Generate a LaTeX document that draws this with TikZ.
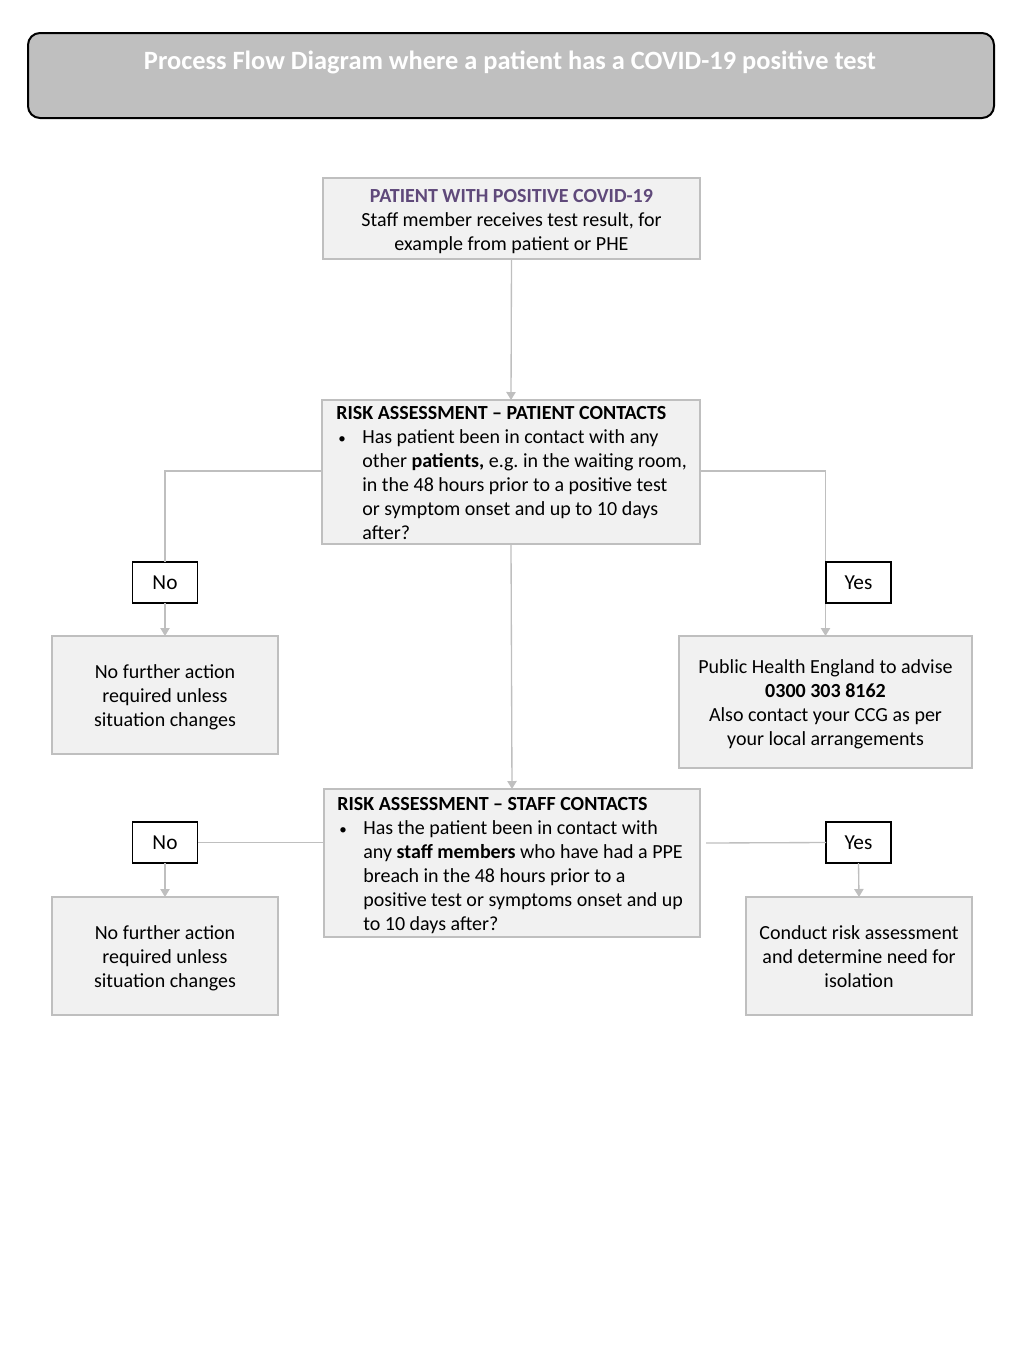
\documentclass[tikz,border=0pt]{standalone}
\usepackage{fontspec}
\setmainfont{Carlito}
\usetikzlibrary{arrows.meta}
\frenchspacing
\definecolor{boxfill}{RGB}{241,241,241}
\definecolor{boxline}{RGB}{191,191,191}
\definecolor{titlefill}{RGB}{191,191,191}
\definecolor{headpurple}{RGB}{95,73,122}
\newcommand{\dropbox}[1]{\raisebox{-2.25pt}[\height][\depth]{#1}}
\newcommand{\ctext}[1]{\dropbox{\begin{tabular}{@{}c@{}}#1\end{tabular}}}
\newcommand{\btext}[2]{\dropbox{\makebox[#1][l]{\begin{tabular}{@{}l@{}l@{}}#2\end{tabular}}}}
\newcommand{\bul}{\makebox[19.5pt][l]{\hspace{1.5pt}\raisebox{0.6pt}{\scalebox{0.75}{\textbullet}}}}
\tikzset{
  stepbox/.style={draw=boxline, fill=boxfill, line width=1.1pt, inner sep=0pt, outer sep=0pt, font=\fontsize{15}{18}\selectfont},
  answer/.style={draw=black, fill=white, line width=0.8pt, inner sep=0pt, outer sep=0pt, minimum width=48.75pt, minimum height=30.75pt, font=\fontsize{16}{18}\selectfont},
  conn/.style={draw=boxline, line width=1pt},
  arr/.style={conn, -{Triangle[width=7pt,length=6pt]}}
}
\begin{document}
\begin{tikzpicture}[x=0.75pt,y=-0.75pt]
\useasboundingbox (0,0) rectangle (1024,1365);
% title
\node[draw=black, fill=titlefill, line width=1.5pt, rounded corners=9pt, minimum width=724.5pt, minimum height=63.75pt, inner sep=0pt] (titlebox) at (511,75.5) {};
\node[text=white, font=\fontsize{19.8}{22}\selectfont\bfseries, inner sep=0pt] (title) at (510,62) {Process Flow Diagram where a patient has a COVID-19 positive test};
% box 1
\node[stepbox, minimum width=282.75pt, minimum height=60.75pt] (b1) at (511.5,218.5)
  {\ctext{{\bfseries\color{headpurple}PATIENT WITH POSITIVE COVID-19}\\Staff member receives test result, for\\example from patient or PHE}};
% box 2
\node[stepbox, minimum width=283.5pt, minimum height=108pt] (b2) at (511,472)
  {\btext{262pt}{\multicolumn{2}{@{}l@{}}{\textbf{RISK ASSESSMENT – PATIENT CONTACTS}}\\
   \bul & Has patient been in contact with any\\
   & other \textbf{patients,} e.g. in the waiting room,\\
   & in the 48 hours prior to a positive test\\
   & or symptom onset and up to 10 days\\
   & after?}};
% box 3
\node[stepbox, minimum width=282pt, minimum height=111pt] (b3) at (512,863)
  {\btext{262pt}{\multicolumn{2}{@{}l@{}}{\textbf{RISK ASSESSMENT – STAFF CONTACTS}}\\
   \bul & Has the patient been in contact with\\
   & any \textbf{staff members} who have had a PPE\\
   & breach in the 48 hours prior to a\\
   & positive test or symptoms onset and up\\
   & to 10 days after?}};
% answer labels
\node[answer] (no1) at (165,582.5) {No};
\node[answer] (yes1) at (858.5,582.5) {Yes};
\node[answer] (no2) at (165,842.5) {No};
\node[answer] (yes2) at (858.5,842.5) {Yes};
% outcome boxes
\node[stepbox, minimum width=169.5pt, minimum height=88.5pt] (noA) at (165,695)
  {\ctext{No further action\\required unless\\situation changes}};
\node[stepbox, minimum width=219.75pt, minimum height=99pt] (yesA) at (825.5,702)
  {\ctext{Public Health England to advise\\\textbf{0300 303 8162}\\Also contact your CCG as per\\your local arrangements}};
\node[stepbox, minimum width=169.5pt, minimum height=88.5pt] (noB) at (165,956)
  {\ctext{No further action\\required unless\\situation changes}};
\node[stepbox, minimum width=169.5pt, minimum height=88.5pt] (yesB) at (859,956)
  {\ctext{Conduct risk assessment\\and determine need for\\isolation}};
% connectors
\coordinate (b2l) at (322,471);
\coordinate (b2r) at (700,471);
\coordinate (b3r) at (706,843);
\draw[arr] (b1.south) -- (b2.north);
\draw[arr] (b2.south) -- (b3.north);
\draw[conn] (b2l) -| (no1.north);
\draw[arr] (no1.south) -- (noA.north);
\draw[arr] (b2r) -| (yesA.north);
\node[answer] at (yes1) {Yes};
\draw[conn] (b3.west |- no2.east) -- (no2.east);
\draw[arr] (no2.south) -- (noB.north);
\draw[conn] (b3r) -- (yes2.west);
\draw[arr] (yes2.south) -- (yesB.north);
\end{tikzpicture}
\end{document}
